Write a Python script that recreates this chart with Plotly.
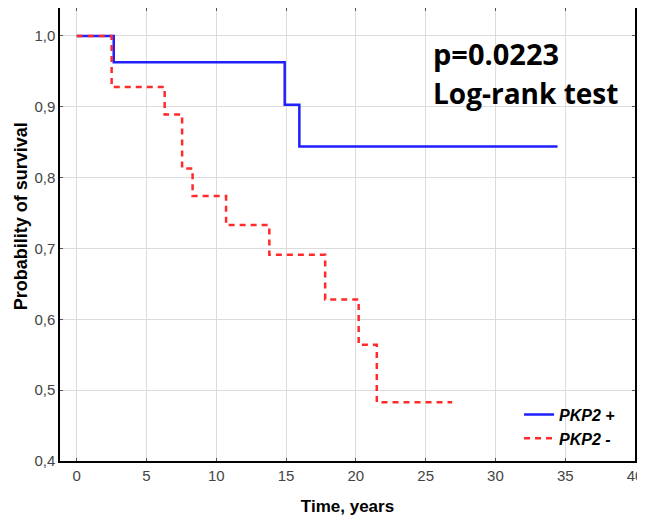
import plotly.graph_objects as go

# Kaplan-Meier step data
pos_time = [0, 2.65, 14.9, 15.95, 34.45]
pos_surv = [1.0, 0.963, 0.903, 0.844, 0.844]

neg_time = [0, 2.5, 6.3, 7.55, 8.3, 10.7, 13.8, 17.8, 20.2, 21.5, 26.9]
neg_surv = [1.0, 0.928, 0.889, 0.813, 0.774, 0.733, 0.691, 0.628, 0.564, 0.483, 0.483]

x_ticks = [0, 5, 10, 15, 20, 25, 30, 35, 40]
y_ticks = [0.4, 0.5, 0.6, 0.7, 0.8, 0.9, 1.0]

fig = go.Figure()
fig.add_trace(go.Scatter(x=pos_time, y=pos_surv, mode='lines', line_shape='hv',
                         line=dict(color='#1f1fff', width=2.5),
                         name='<b><i>PKP2 +</i></b>'))
fig.add_trace(go.Scatter(x=neg_time, y=neg_surv, mode='lines', line_shape='hv',
                         line=dict(color='#ff2a2a', width=2.5, dash='6px,5px'),
                         name='<b><i>PKP2 -</i></b>'))

axis_style = dict(showline=True, linecolor='black', linewidth=1.5, mirror='ticks',
                  ticks='inside', ticklen=3, tickcolor='#555', showgrid=True,
                  gridcolor='#dcdcdc', gridwidth=1, zeroline=False, automargin=False,
                  tickfont=dict(family='Arial', size=15, color='#444'))

fig.update_xaxes(range=[-1.2, 40], tickvals=x_ticks, **axis_style,
                 title=dict(text='<b>Time, years</b>', font=dict(family='Arial', size=17, color='black'),
                            standoff=17))
fig.update_yaxes(range=[0.4, 1.0395], tickvals=y_ticks, tickformat='.1f', **axis_style)

# y title placed by hand so it sits close to the left edge like the original
fig.add_annotation(text='<b>Probability of survival</b>', xref='paper', yref='paper',
                   x=-0.068, y=0.54, xanchor='center', yanchor='middle', textangle=-90,
                   showarrow=False, font=dict(family='Arial', size=18, color='black'))

# log-rank result, two lines placed separately
fig.add_annotation(text='<b>p=0.0223</b>', xref='paper', yref='paper',
                   x=0.645, y=0.90, xanchor='left', yanchor='middle', showarrow=False,
                   font=dict(family='Open Sans', size=29, color='black'))
fig.add_annotation(text='<b>Log-rank test</b>', xref='paper', yref='paper',
                   x=0.645, y=0.812, xanchor='left', yanchor='middle', showarrow=False,
                   font=dict(family='Open Sans', size=28, color='black'))

# page body has an 8px margin, so the figure is shrunk to fit the window
fig.update_layout(width=637, height=508, separators=',.',
                  margin=dict(l=52, r=10, t=0, b=55),
                  paper_bgcolor='white', plot_bgcolor='white',
                  legend=dict(x=0.974, y=0.012, xanchor='right', yanchor='bottom',
                              bgcolor='rgba(0,0,0,0)', font=dict(family='Arial', size=16, color='black')),
                  showlegend=True)

fig.write_html("out.html")
